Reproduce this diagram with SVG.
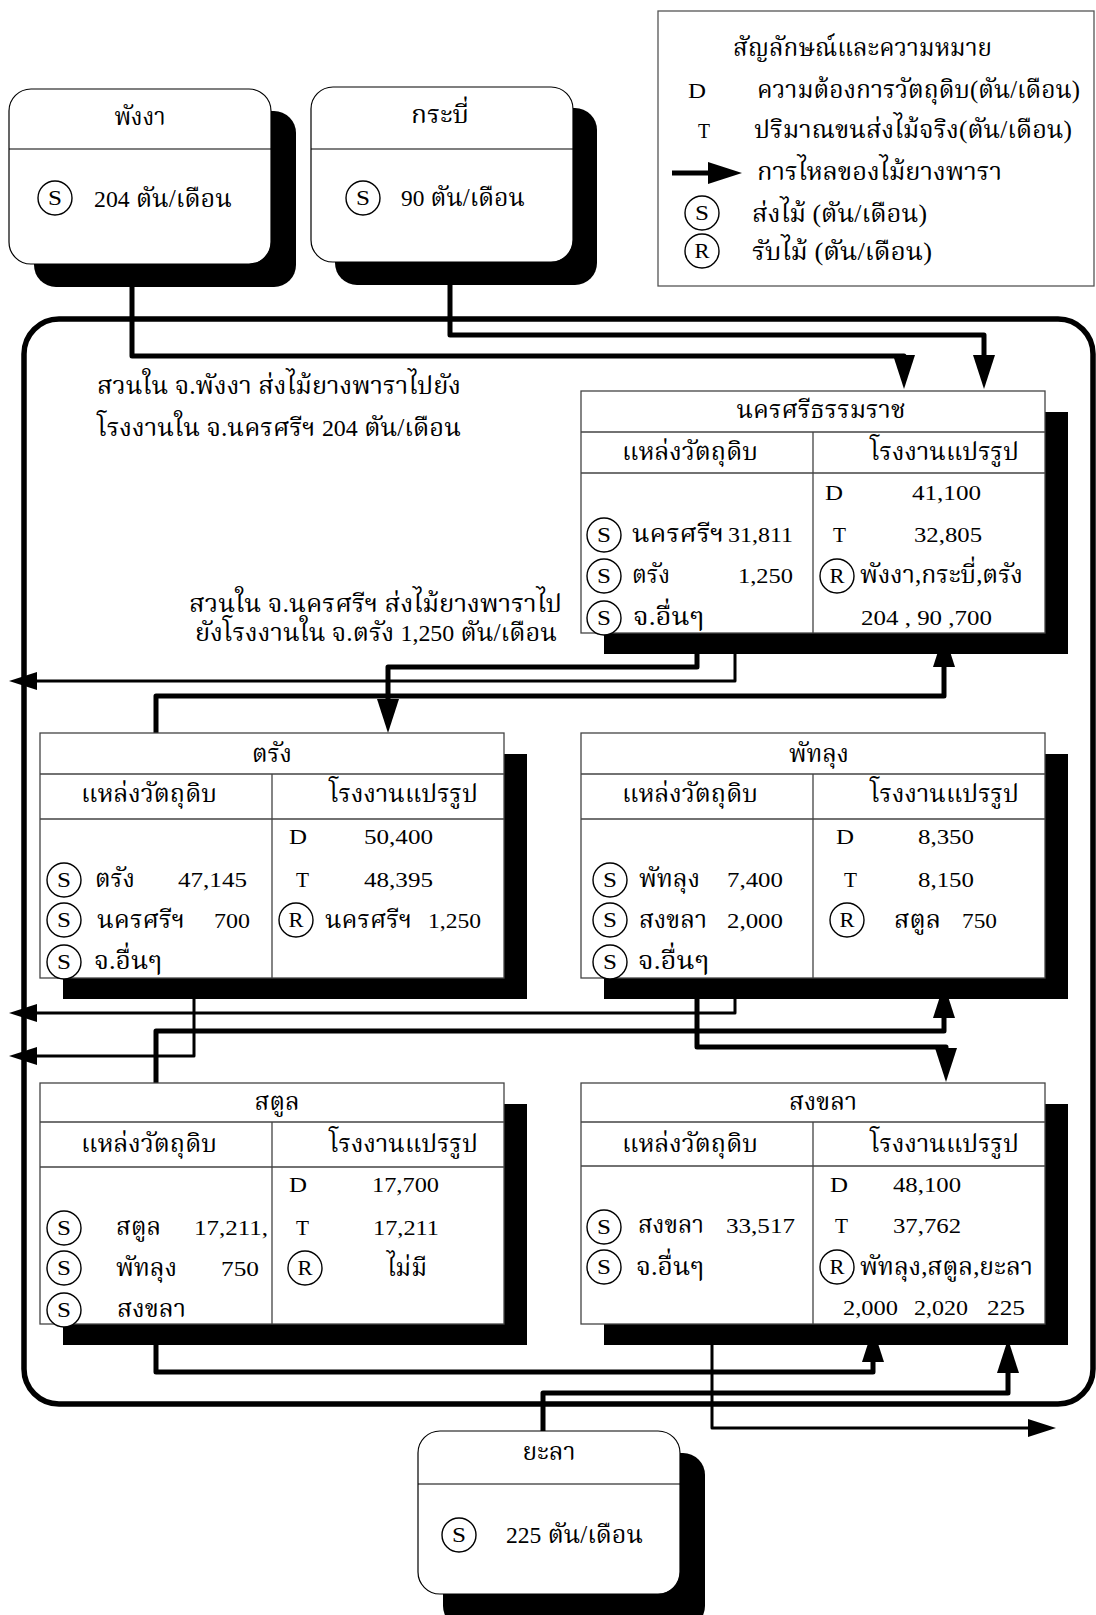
<svg xmlns="http://www.w3.org/2000/svg" xmlns:xlink="http://www.w3.org/1999/xlink" width="1096" height="1615" viewBox="0 0 1096 1615">
  <style>
    .t { font-family: 'Liberation Serif', 'Noto Serif Thai', 'Noto Sans Thai', 'DejaVu Serif', serif; font-size: 22px; fill: #000; }
    .th { font-size: 25px; }
    .n { font-size: 23.5px; }
    .mid { text-anchor: middle; }
    .ring { fill: #fff; stroke: #000; stroke-width: 1.4; }
    .shadow { fill: #000; stroke: none; }
    .card { fill: #fff; stroke: #000; stroke-width: 1.2; }
    .tbl { fill: #fff; stroke: #444; stroke-width: 1.3; }
    .rule { stroke: #444; stroke-width: 1.3; fill: none; }
    .frame { fill: none; stroke: #000; stroke-width: 5.5; }
    .thick { fill: none; stroke: #000; stroke-width: 5; stroke-linejoin: round; marker-end: url(#ah); }
    .thin { fill: none; stroke: #000; stroke-width: 3; stroke-linejoin: round; marker-end: url(#ahs); }
  </style>
  <defs>
    <marker id="ah" markerUnits="userSpaceOnUse" markerWidth="36" markerHeight="22" refX="4" refY="11" orient="auto">
      <path d="M0,0 L34,11 L0,22 Z" fill="#000"/>
    </marker>
    <marker id="ahs" markerUnits="userSpaceOnUse" markerWidth="30" markerHeight="18" refX="4" refY="9" orient="auto">
      <path d="M0,0 L28,9 L0,18 Z" fill="#000"/>
    </marker>
    <g id="mS"><circle r="17" class="ring"/><text class="t mid" y="7" font-size="20" textLength="14" lengthAdjust="spacingAndGlyphs">S</text></g>
    <g id="mR"><circle r="17" class="ring"/><text class="t mid" y="7" font-size="20" textLength="15" lengthAdjust="spacingAndGlyphs">R</text></g>
  </defs>

  <rect width="1096" height="1615" fill="#fff"/>

  <!-- legend -->
  <g id="legend">
    <rect x="658" y="11" width="436" height="275" fill="#fff" stroke="#555" stroke-width="1.3"/>
    <text class="t th" x="733" y="56" textLength="259" lengthAdjust="spacingAndGlyphs">สัญลักษณ์และความหมาย</text>
    <text class="t" x="688" y="98" textLength="18" lengthAdjust="spacingAndGlyphs">D</text>
    <text class="t th" x="757" y="98" textLength="323" lengthAdjust="spacingAndGlyphs">ความต้องการวัตถุดิบ(ตัน/เดือน)</text>
    <text class="t" x="698" y="138" textLength="12" lengthAdjust="spacingAndGlyphs">T</text>
    <text class="t th" x="754" y="138" textLength="318" lengthAdjust="spacingAndGlyphs">ปริมาณขนส่งไม้จริง(ตัน/เดือน)</text>
    <path d="M672,173 H712" class="thick"/>
    <text class="t th" x="757" y="180" textLength="245" lengthAdjust="spacingAndGlyphs">การไหลของไม้ยางพารา</text>
    <use xlink:href="#mS" x="702" y="213"/>
    <text class="t th" x="752" y="222" textLength="175" lengthAdjust="spacingAndGlyphs">ส่งไม้ (ตัน/เดือน)</text>
    <use xlink:href="#mR" x="702" y="251"/>
    <text class="t th" x="752" y="260" textLength="180" lengthAdjust="spacingAndGlyphs">รับไม้ (ตัน/เดือน)</text>
  </g>

  <!-- region frame -->
  <rect id="frame" x="24" y="319" width="1069" height="1085" rx="35" class="frame"/>

  <!-- flow notes -->
  <g id="notes">
    <text class="t th" x="97" y="394" textLength="364" lengthAdjust="spacingAndGlyphs">สวนใน จ.พังงา ส่งไม้ยางพาราไปยัง</text>
    <text class="t th" x="97" y="436" textLength="364" lengthAdjust="spacingAndGlyphs">โรงงานใน จ.นครศรีฯ <tspan class="n">204</tspan> ตัน/เดือน</text>
    <text class="t th" x="189" y="612" textLength="373" lengthAdjust="spacingAndGlyphs">สวนใน จ.นครศรีฯ ส่งไม้ยางพาราไป</text>
    <text class="t th" x="195" y="641" textLength="362" lengthAdjust="spacingAndGlyphs">ยังโรงงานใน จ.ตรัง <tspan class="n">1,250</tspan> ตัน/เดือน</text>
  </g>

  <!-- connectors -->
  <g id="connectors">
    <path d="M132,287 V356 H904 V359" class="thick"/>
    <path d="M450,285 V335 H984 V359" class="thick"/>
    <path d="M697,633 V667 H388 V703" class="thick"/>
    <path d="M735,654 V681 H33" class="thin"/>
    <path d="M156,733 V696 H944 V663" class="thick"/>
    <path d="M735,999 V1013 H33" class="thin"/>
    <path d="M194,999 V1056 H33" class="thin"/>
    <path d="M156,1083 V1031 H944 V1014" class="thick"/>
    <path d="M697,978 V1047 H946 V1052" class="thick"/>
    <path d="M156,1324 V1372 H873 V1358" class="thick"/>
    <path d="M543,1431 V1393 H1008 V1369" class="thick"/>
    <path d="M712,1324 V1428 H1032" class="thin"/>
  </g>

  <!-- Phang Nga -->
  <g id="phangnga">
    <rect x="34" y="111" width="262" height="176" rx="22" class="shadow"/>
    <rect x="9" y="89" width="262" height="175" rx="22" class="card"/>
    <line x1="9" y1="149" x2="271" y2="149" stroke="#000" stroke-width="1.2"/>
    <text class="t th mid" x="140" y="125" textLength="51" lengthAdjust="spacingAndGlyphs">พังงา</text>
    <use xlink:href="#mS" x="55" y="198"/>
    <text class="t th" x="94" y="207" textLength="138" lengthAdjust="spacingAndGlyphs"><tspan class="n">204</tspan> ตัน/เดือน</text>
  </g>

  <!-- Krabi -->
  <g id="krabi">
    <rect x="335" y="108" width="262" height="177" rx="22" class="shadow"/>
    <rect x="311" y="87" width="262" height="175" rx="22" class="card"/>
    <line x1="311" y1="149" x2="573" y2="149" stroke="#000" stroke-width="1.2"/>
    <text class="t th mid" x="440" y="123" textLength="58" lengthAdjust="spacingAndGlyphs">กระบี่</text>
    <use xlink:href="#mS" x="363" y="198"/>
    <text class="t th" x="401" y="206" textLength="124" lengthAdjust="spacingAndGlyphs"><tspan class="n">90</tspan> ตัน/เดือน</text>
  </g>

  <!-- Nakhon Si Thammarat -->
  <g id="nakhon">
    <rect x="604" y="412" width="464" height="242" class="shadow"/>
    <rect x="581" y="391" width="464" height="242" class="tbl"/>
    <path d="M581,432 H1045 M581,473 H1045 M813,432 V633" class="rule"/>
    <text class="t th mid" x="821" y="418" textLength="169" lengthAdjust="spacingAndGlyphs">นครศรีธรรมราช</text>
    <text class="t th" x="622" y="460" textLength="136" lengthAdjust="spacingAndGlyphs">แหล่งวัตถุดิบ</text>
    <text class="t th" x="870" y="460" textLength="149" lengthAdjust="spacingAndGlyphs">โรงงานแปรรูป</text>
    <text class="t" x="825" y="500" textLength="18" lengthAdjust="spacingAndGlyphs">D</text>
    <text class="t" x="912" y="500" textLength="69" lengthAdjust="spacingAndGlyphs">41,100</text>
    <use xlink:href="#mS" x="604" y="535"/>
    <text class="t th" x="632" y="542" textLength="92" lengthAdjust="spacingAndGlyphs">นครศรีฯ</text>
    <text class="t" x="728" y="542" textLength="65" lengthAdjust="spacingAndGlyphs">31,811</text>
    <text class="t" x="833" y="542" textLength="13" lengthAdjust="spacingAndGlyphs">T</text>
    <text class="t" x="914" y="542" textLength="68" lengthAdjust="spacingAndGlyphs">32,805</text>
    <use xlink:href="#mS" x="604" y="576"/>
    <text class="t th" x="632" y="583" textLength="38" lengthAdjust="spacingAndGlyphs">ตรัง</text>
    <text class="t" x="738" y="583" textLength="55" lengthAdjust="spacingAndGlyphs">1,250</text>
    <use xlink:href="#mR" x="837" y="576"/>
    <text class="t th" x="860" y="583" textLength="163" lengthAdjust="spacingAndGlyphs">พังงา,กระบี่,ตรัง</text>
    <use xlink:href="#mS" x="604" y="618"/>
    <text class="t th" x="633" y="625" textLength="71" lengthAdjust="spacingAndGlyphs">จ.อื่นๆ</text>
    <text class="t" x="861" y="625" textLength="131" lengthAdjust="spacingAndGlyphs">204 , 90 ,700</text>
  </g>

  <!-- Trang -->
  <g id="trang">
    <rect x="63" y="754" width="464" height="245" class="shadow"/>
    <rect x="40" y="733" width="464" height="245" class="tbl"/>
    <path d="M40,774 H504 M40,819 H504 M272,774 V978" class="rule"/>
    <text class="t th mid" x="272" y="762" textLength="40" lengthAdjust="spacingAndGlyphs">ตรัง</text>
    <text class="t th" x="81" y="802" textLength="136" lengthAdjust="spacingAndGlyphs">แหล่งวัตถุดิบ</text>
    <text class="t th" x="329" y="802" textLength="149" lengthAdjust="spacingAndGlyphs">โรงงานแปรรูป</text>
    <text class="t" x="289" y="844" textLength="18" lengthAdjust="spacingAndGlyphs">D</text>
    <text class="t" x="364" y="844" textLength="69" lengthAdjust="spacingAndGlyphs">50,400</text>
    <use xlink:href="#mS" x="64" y="880"/>
    <text class="t th" x="95" y="887" textLength="40" lengthAdjust="spacingAndGlyphs">ตรัง</text>
    <text class="t" x="178" y="887" textLength="69" lengthAdjust="spacingAndGlyphs">47,145</text>
    <text class="t" x="296" y="887" textLength="13" lengthAdjust="spacingAndGlyphs">T</text>
    <text class="t" x="364" y="887" textLength="69" lengthAdjust="spacingAndGlyphs">48,395</text>
    <use xlink:href="#mS" x="64" y="920"/>
    <text class="t th" x="97" y="928" textLength="88" lengthAdjust="spacingAndGlyphs">นครศรีฯ</text>
    <text class="t" x="214" y="928" textLength="36" lengthAdjust="spacingAndGlyphs">700</text>
    <use xlink:href="#mR" x="296" y="920"/>
    <text class="t th" x="325" y="928" textLength="87" lengthAdjust="spacingAndGlyphs">นครศรีฯ</text>
    <text class="t" x="428" y="928" textLength="53" lengthAdjust="spacingAndGlyphs">1,250</text>
    <use xlink:href="#mS" x="64" y="962"/>
    <text class="t th" x="94" y="969" textLength="68" lengthAdjust="spacingAndGlyphs">จ.อื่นๆ</text>
  </g>

  <!-- Phatthalung -->
  <g id="phatthalung">
    <rect x="604" y="754" width="464" height="245" class="shadow"/>
    <rect x="581" y="733" width="464" height="245" class="tbl"/>
    <path d="M581,774 H1045 M581,819 H1045 M813,774 V978" class="rule"/>
    <text class="t th mid" x="819" y="762" textLength="60" lengthAdjust="spacingAndGlyphs">พัทลุง</text>
    <text class="t th" x="622" y="802" textLength="136" lengthAdjust="spacingAndGlyphs">แหล่งวัตถุดิบ</text>
    <text class="t th" x="870" y="802" textLength="149" lengthAdjust="spacingAndGlyphs">โรงงานแปรรูป</text>
    <text class="t" x="836" y="844" textLength="18" lengthAdjust="spacingAndGlyphs">D</text>
    <text class="t" x="918" y="844" textLength="56" lengthAdjust="spacingAndGlyphs">8,350</text>
    <use xlink:href="#mS" x="610" y="880"/>
    <text class="t th" x="639" y="887" textLength="61" lengthAdjust="spacingAndGlyphs">พัทลุง</text>
    <text class="t" x="727" y="887" textLength="56" lengthAdjust="spacingAndGlyphs">7,400</text>
    <text class="t" x="844" y="887" textLength="13" lengthAdjust="spacingAndGlyphs">T</text>
    <text class="t" x="918" y="887" textLength="56" lengthAdjust="spacingAndGlyphs">8,150</text>
    <use xlink:href="#mS" x="610" y="920"/>
    <text class="t th" x="639" y="928" textLength="68" lengthAdjust="spacingAndGlyphs">สงขลา</text>
    <text class="t" x="727" y="928" textLength="56" lengthAdjust="spacingAndGlyphs">2,000</text>
    <use xlink:href="#mR" x="847" y="920"/>
    <text class="t th" x="894" y="928" textLength="47" lengthAdjust="spacingAndGlyphs">สตูล</text>
    <text class="t" x="962" y="928" textLength="35" lengthAdjust="spacingAndGlyphs">750</text>
    <use xlink:href="#mS" x="610" y="962"/>
    <text class="t th" x="638" y="969" textLength="71" lengthAdjust="spacingAndGlyphs">จ.อื่นๆ</text>
  </g>

  <!-- Satun -->
  <g id="satun">
    <rect x="63" y="1104" width="464" height="241" class="shadow"/>
    <rect x="40" y="1083" width="464" height="241" class="tbl"/>
    <path d="M40,1122 H504 M40,1167 H504 M272,1122 V1324" class="rule"/>
    <text class="t th mid" x="277" y="1110" textLength="45" lengthAdjust="spacingAndGlyphs">สตูล</text>
    <text class="t th" x="81" y="1152" textLength="136" lengthAdjust="spacingAndGlyphs">แหล่งวัตถุดิบ</text>
    <text class="t th" x="329" y="1152" textLength="149" lengthAdjust="spacingAndGlyphs">โรงงานแปรรูป</text>
    <text class="t" x="289" y="1192" textLength="18" lengthAdjust="spacingAndGlyphs">D</text>
    <text class="t" x="372" y="1192" textLength="67" lengthAdjust="spacingAndGlyphs">17,700</text>
    <use xlink:href="#mS" x="64" y="1228"/>
    <text class="t th" x="116" y="1235" textLength="45" lengthAdjust="spacingAndGlyphs">สตูล</text>
    <text class="t" x="194" y="1235" textLength="74" lengthAdjust="spacingAndGlyphs">17,211,</text>
    <text class="t" x="296" y="1235" textLength="13" lengthAdjust="spacingAndGlyphs">T</text>
    <text class="t" x="373" y="1235" textLength="66" lengthAdjust="spacingAndGlyphs">17,211</text>
    <use xlink:href="#mS" x="64" y="1268"/>
    <text class="t th" x="116" y="1276" textLength="61" lengthAdjust="spacingAndGlyphs">พัทลุง</text>
    <text class="t" x="221" y="1276" textLength="38" lengthAdjust="spacingAndGlyphs">750</text>
    <use xlink:href="#mR" x="305" y="1268"/>
    <text class="t th" x="387" y="1276" textLength="40" lengthAdjust="spacingAndGlyphs">ไม่มี</text>
    <use xlink:href="#mS" x="64" y="1310"/>
    <text class="t th" x="117" y="1317" textLength="69" lengthAdjust="spacingAndGlyphs">สงขลา</text>
  </g>

  <!-- Songkhla -->
  <g id="songkhla">
    <rect x="604" y="1104" width="464" height="241" class="shadow"/>
    <rect x="581" y="1083" width="464" height="241" class="tbl"/>
    <path d="M581,1122 H1045 M581,1166 H1045 M813,1122 V1324" class="rule"/>
    <text class="t th mid" x="823" y="1110" textLength="68" lengthAdjust="spacingAndGlyphs">สงขลา</text>
    <text class="t th" x="622" y="1152" textLength="136" lengthAdjust="spacingAndGlyphs">แหล่งวัตถุดิบ</text>
    <text class="t th" x="870" y="1152" textLength="149" lengthAdjust="spacingAndGlyphs">โรงงานแปรรูป</text>
    <text class="t" x="830" y="1192" textLength="18" lengthAdjust="spacingAndGlyphs">D</text>
    <text class="t" x="893" y="1192" textLength="68" lengthAdjust="spacingAndGlyphs">48,100</text>
    <use xlink:href="#mS" x="604" y="1227"/>
    <text class="t th" x="638" y="1233" textLength="66" lengthAdjust="spacingAndGlyphs">สงขลา</text>
    <text class="t" x="726" y="1233" textLength="69" lengthAdjust="spacingAndGlyphs">33,517</text>
    <text class="t" x="835" y="1233" textLength="13" lengthAdjust="spacingAndGlyphs">T</text>
    <text class="t" x="893" y="1233" textLength="68" lengthAdjust="spacingAndGlyphs">37,762</text>
    <use xlink:href="#mS" x="604" y="1267"/>
    <text class="t th" x="636" y="1275" textLength="68" lengthAdjust="spacingAndGlyphs">จ.อื่นๆ</text>
    <use xlink:href="#mR" x="837" y="1267"/>
    <text class="t th" x="860" y="1275" textLength="173" lengthAdjust="spacingAndGlyphs">พัทลุง,สตูล,ยะลา</text>
    <text class="t" x="843" y="1315" textLength="55" lengthAdjust="spacingAndGlyphs">2,000</text>
    <text class="t" x="914" y="1315" textLength="54" lengthAdjust="spacingAndGlyphs">2,020</text>
    <text class="t" x="987" y="1315" textLength="38" lengthAdjust="spacingAndGlyphs">225</text>
  </g>

  <!-- Yala -->
  <g id="yala">
    <rect x="443" y="1453" width="262" height="175" rx="22" class="shadow"/>
    <rect x="418" y="1431" width="262" height="163" rx="22" class="card"/>
    <line x1="418" y1="1484" x2="680" y2="1484" stroke="#000" stroke-width="1.2"/>
    <text class="t th mid" x="549" y="1460" textLength="53" lengthAdjust="spacingAndGlyphs">ยะลา</text>
    <use xlink:href="#mS" x="459" y="1535"/>
    <text class="t th" x="506" y="1543" textLength="137" lengthAdjust="spacingAndGlyphs"><tspan class="n">225</tspan> ตัน/เดือน</text>
  </g>
</svg>
